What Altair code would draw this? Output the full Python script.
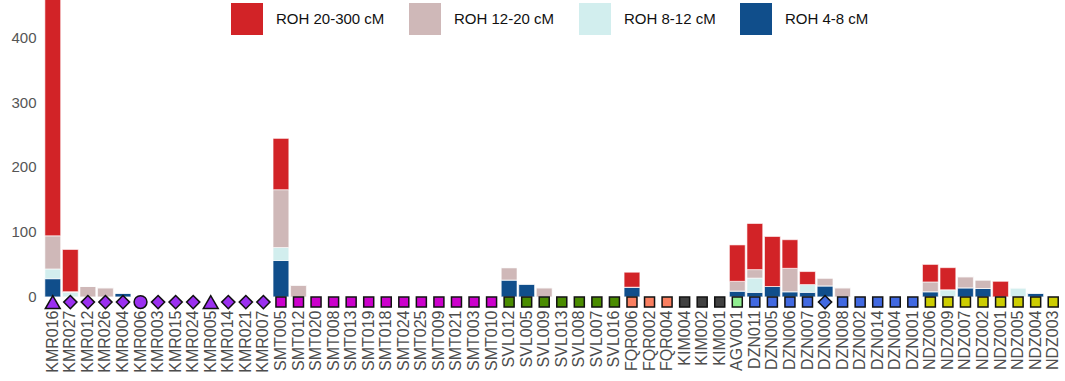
import altair as alt
import pandas as pd

# Samples in plotting order
samples = [
    "KMR016", "KMR027", "KMR012", "KMR026", "KMR004", "KMR006", "KMR003", "KMR015",
    "KMR024", "KMR005", "KMR014", "KMR021", "KMR007",
    "SMT005", "SMT012", "SMT020", "SMT008", "SMT013", "SMT019", "SMT018", "SMT024",
    "SMT025", "SMT009", "SMT021", "SMT003", "SMT010",
    "SVL012", "SVL005", "SVL009", "SVL013", "SVL008", "SVL007", "SVL016",
    "FQR006", "FQR002", "FQR004",
    "KIM004", "KIM002", "KIM001",
    "AGV001",
    "DZN011", "DZN005", "DZN006", "DZN007", "DZN009", "DZN008", "DZN002", "DZN014",
    "DZN004", "DZN001",
    "NDZ006", "NDZ009", "NDZ007", "NDZ002", "NDZ001", "NDZ005", "NDZ004", "NDZ003",
]

# Total ROH length (cM) per length class
roh_4_8 = [
    28, 0, 0, 0, 6, 0, 0, 0, 0, 0, 0, 0, 0,
    56, 0, 0, 0, 0, 0, 0, 0, 0, 0, 0, 0, 0,
    26, 20, 0, 0, 0, 0, 0,
    15, 0, 0,
    0, 0, 0,
    9,
    7, 16, 8, 7, 17, 0, 0, 0, 0, 0,
    8, 0, 14, 13, 0, 0, 6, 0,
]
roh_8_12 = [
    15, 7, 0, 0, 0, 0, 0, 0, 0, 0, 0, 0, 0,
    20, 0, 0, 0, 0, 0, 0, 0, 0, 0, 0, 0, 0,
    0, 0, 0, 0, 0, 0, 0,
    0, 0, 0,
    0, 0, 0,
    0,
    22, 0, 0, 12, 0, 0, 0, 0, 0, 0,
    0, 11, 0, 0, 0, 14, 0, 0,
]
roh_12_20 = [
    51, 1, 16, 14, 0, 0, 0, 0, 0, 0, 0, 0, 0,
    89, 18, 0, 0, 0, 0, 0, 0, 0, 0, 0, 0, 0,
    19, 0, 14, 0, 0, 0, 0,
    0, 0, 0,
    0, 0, 0,
    15,
    13, 0, 36, 0, 12, 14, 0, 0, 0, 0,
    15, 0, 17, 13, 0, 0, 0, 0,
]
roh_20_300 = [
    420, 65, 0, 0, 0, 0, 0, 0, 0, 0, 0, 0, 0,
    79, 0, 0, 0, 0, 0, 0, 0, 0, 0, 0, 0, 0,
    0, 0, 0, 0, 0, 0, 0,
    23, 0, 0,
    0, 0, 0,
    56,
    71, 77, 44, 20, 0, 0, 0, 0, 0, 0,
    27, 34, 0, 0, 24, 0, 0, 0,
]

# Population of each sample and the marker class drawn under its bar
populations = (["KMR"] * 13 + ["SMT"] * 13 + ["SVL"] * 7 + ["FQR"] * 3
               + ["KIM"] * 3 + ["AGV"] * 1 + ["DZN"] * 10 + ["NDZ"] * 8)
markers = (
    ["tri", "dia", "dia", "dia", "dia", "cir", "dia", "dia", "dia", "tri", "dia", "dia", "dia"]
    + ["sq"] * 13 + ["sq"] * 7 + ["sq"] * 3 + ["sq"] * 3 + ["sq"]
    + ["sq", "sq", "sq", "sq", "dia", "sq", "sq", "sq", "sq", "sq"]
    + ["sq"] * 8
)

classes = ["ROH 20-300 cM", "ROH 12-20 cM", "ROH 8-12 cM", "ROH 4-8 cM"]
class_colors = ["#d22327", "#cfb8b8", "#d2eeee", "#104e8b"]

pop_names = ["KMR", "SMT", "SVL", "FQR", "KIM", "AGV", "DZN", "NDZ"]
pop_colors = ["#9b30f0", "#cc00cc", "#4a8c00", "#fa7f60", "#404040", "#90ee90", "#4169e1", "#cdcd00"]

# marker class -> (vega shape, symbol area)
marker_style = {
    "tri": ("triangle-up", 220),
    "dia": ("diamond", 175),
    "cir": ("circle", 165),
    "sq": ("square", 100),
}

# Long table for the stacked bars (blue class at the bottom)
series = {
    "ROH 4-8 cM": roh_4_8,
    "ROH 8-12 cM": roh_8_12,
    "ROH 12-20 cM": roh_12_20,
    "ROH 20-300 cM": roh_20_300,
}
rows = []
for stack_pos, (cls, vals) in enumerate(series.items()):
    for s, v in zip(samples, vals):
        rows.append({"sample": s, "class": cls, "cM": v, "stack": stack_pos})
bars_df = pd.DataFrame(rows)

points_df = pd.DataFrame({"sample": samples, "pop": populations, "marker": markers})

x_enc = alt.X(
    "sample:N",
    sort=samples,
    title=None,
    scale=alt.Scale(paddingInner=0.1, paddingOuter=0.05),
    axis=alt.Axis(
        labelAngle=-90,
        labelFontSize=16,
        labelColor="#4d4d4d",
        labelFont="Liberation Sans",
        labelPadding=4,
        ticks=False,
        domain=False,
        grid=False,
    ),
)

y_scale = alt.Scale(domain=[-14, 457], nice=False, zero=False)

bars = alt.Chart(bars_df).mark_bar(clip=True, stroke="white", strokeWidth=0.6).encode(
    x=x_enc,
    y=alt.Y(
        "cM:Q",
        stack="zero",
        scale=y_scale,
        title=None,
        axis=alt.Axis(
            values=[0, 100, 200, 300, 400],
            labelFontSize=15,
            labelColor="#555555",
            labelFont="Liberation Sans",
            labelPadding=8,
            ticks=False,
            domain=False,
            grid=False,
        ),
    ),
    color=alt.Color(
        "class:N",
        scale=alt.Scale(domain=classes, range=class_colors),
        sort=classes,
        title=None,
        legend=alt.Legend(
            orient="none",
            legendX=187,
            legendY=3,
            direction="horizontal",
            symbolType="square",
            symbolSize=1024,
            symbolStrokeWidth=0,
            symbolOpacity=1,
            labelFontSize=15,
            labelColor="#111111",
            labelFont="Liberation Sans",
            labelOffset=13,
            columnPadding=24,
        ),
    ),
    order=alt.Order("stack:Q", sort="ascending"),
)

# One point layer per marker class
point_layers = []
for key, (shape, area) in marker_style.items():
    layer = (
        alt.Chart(points_df)
        .transform_filter(alt.datum.marker == key)
        .mark_point(filled=True, shape=shape, size=area, stroke="#111111", strokeWidth=1.5, opacity=1)
        .encode(
            x=alt.X("sample:N", sort=samples),
            y=alt.datum(-8),
            fill=alt.Fill("pop:N", scale=alt.Scale(domain=pop_names, range=pop_colors), legend=None),
        )
    )
    point_layers.append(layer)

chart = (
    alt.layer(bars, *point_layers)
    .properties(
        width=1018,
        height=306,
        autosize=alt.AutoSizeParams(type="none"),
        padding={"left": 44, "top": 0, "right": 3, "bottom": 75},
        background="white",
    )
    .configure_view(stroke=None)
)

chart.save("out.html", embed_options={"renderer": "svg", "actions": False})
